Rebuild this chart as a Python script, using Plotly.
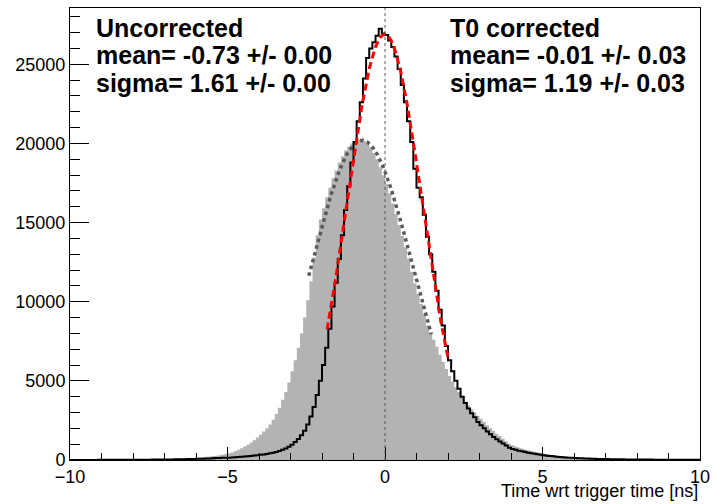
import numpy as np
import plotly.graph_objects as go

# ---------------- data ----------------
bin_lo, bin_hi, n_bins = -10.0, 10.0, 200

uncorrected = [
    8, 9, 7, 10, 9, 11, 10, 12, 11, 13,
    13, 14, 15, 15, 17, 18, 19, 21, 22, 24,
    26, 28, 30, 32, 35, 38, 41, 45, 49, 54,
    59, 64, 70, 76, 83, 91, 99, 108, 118, 129,
    150, 165, 182, 200, 222, 246, 273, 303, 337, 375,
    420, 470, 560, 640, 740, 850, 970, 1100, 1250, 1420,
    1600, 1800, 2000, 2250, 2550, 2900, 3300, 3800, 4300, 4900,
    5600, 6300, 7100, 8000, 9000, 10100, 11300, 12800, 14200, 15200,
    15900, 16600, 17200, 17800, 18300, 18800, 19200, 19550, 19800, 20000,
    20150, 20250, 20200, 20150, 20000, 19750, 19400, 19000, 18500, 18000,
    17450, 16850, 16200, 15550, 14850, 14150, 13450, 12750, 11900, 11150,
    10500, 9850, 9250, 8500, 8050, 7600, 7150, 6650, 6200, 5750,
    5300, 4950, 4600, 4300, 4000, 3700, 3450, 3200, 3000, 2800,
    2600, 2400, 2200, 2000, 1830, 1660, 1510, 1340, 1180, 1020,
    930, 860, 790, 730, 670, 620, 570, 520, 470, 430,
    390, 355, 325, 295, 270, 245, 225, 205, 185, 168,
    153, 140, 128, 117, 107, 98, 90, 83, 77, 71,
    66, 61, 57, 53, 50, 47, 44, 42, 40, 38,
    36, 34, 32, 31, 29, 28, 27, 26, 25, 24,
    23, 22, 21, 20, 20, 19, 18, 18, 17, 17,
]

t0_corrected = [
    4, 5, 4, 6, 5, 6, 7, 6, 7, 8,
    8, 9, 9, 10, 11, 11, 12, 13, 14, 15,
    16, 17, 18, 19, 21, 22, 24, 26, 28, 30,
    32, 35, 38, 41, 44, 48, 52, 57, 62, 67,
    73, 79, 86, 93, 101, 110, 119, 129, 140, 145,
    150, 160, 172, 185, 200, 215, 232, 252, 280, 305,
    330, 355, 385, 420, 460, 510, 570, 640, 730, 840,
    970, 1130, 1320, 1560, 1850, 2250, 2750, 3350, 4100, 5000,
    6000, 7100, 8300, 9700, 11200, 12700, 14200, 15800, 17300, 18800,
    20100, 21400, 22600, 24100, 25400, 26000, 26400, 26800, 27250, 26950,
    26850, 26500, 26100, 25500, 24700, 23700, 22600, 21400, 20100, 18400,
    17200, 16600, 15500, 14100, 13000, 11900, 10700, 9500, 8500, 7200,
    6300, 5600, 5000, 4500, 4000, 3600, 3250, 2950, 2700, 2400,
    2200, 2000, 1800, 1620, 1460, 1310, 1170, 1040, 920, 780,
    700, 640, 590, 545, 505, 465, 430, 395, 360, 330,
    300, 275, 252, 230, 210, 192, 176, 161, 147, 135,
    124, 114, 105, 97, 90, 83, 77, 71, 66, 61,
    57, 53, 49, 46, 43, 40, 38, 36, 34, 32,
    30, 28, 27, 25, 24, 23, 22, 21, 20, 19,
    18, 17, 16, 16, 15, 14, 14, 13, 13, 12,
]

# Gaussian fit results: [amplitude, mean, sigma], and fit ranges
fit_uncorr = [20200, -0.73, 1.61]
fit_uncorr_range = [-2.42, 1.47]
fit_t0 = [26900, -0.01, 1.19]
fit_t0_range = [-1.84, 2.02]

text_left = ["Uncorrected", "mean= -0.73 +/- 0.00", "sigma= 1.61 +/- 0.00"]
text_right = ["T0 corrected", "mean= -0.01 +/- 0.03", "sigma= 1.19 +/- 0.03"]
x_title = "Time wrt trigger time [ns]"

# ---------------- figure ----------------
edges = np.linspace(bin_lo, bin_hi, n_bins + 1)


def step_xy(vals):
    return list(edges), list(vals) + [vals[-1]]


def gauss_curve(p, rng):
    xs = np.linspace(rng[0], rng[1], 300)
    return xs, p[0] * np.exp(-0.5 * ((xs - p[1]) / p[2]) ** 2)


fig = go.Figure()

gx, gy = step_xy(uncorrected)
fig.add_trace(go.Scatter(x=gx, y=gy, mode="lines", line=dict(shape="hv", width=0, color="#b3b3b3"),
                         fill="tozeroy", fillcolor="#b3b3b3", hoverinfo="skip"))

fx, fy = gauss_curve(fit_uncorr, fit_uncorr_range)
fig.add_trace(go.Scatter(x=fx, y=fy, mode="lines",
                         line=dict(color="#5a5a5a", width=3.5, dash="dot")))

bx, by = step_xy(t0_corrected)
fig.add_trace(go.Scatter(x=bx, y=by, mode="lines", line=dict(shape="hv", width=2, color="black")))

rx, ry = gauss_curve(fit_t0, fit_t0_range)
fig.add_trace(go.Scatter(x=rx, y=ry, mode="lines",
                         line=dict(color="#ff0000", width=3, dash="7px,4px")))

fig.add_shape(type="line", x0=0, x1=0, y0=0, y1=1, xref="x", yref="paper",
              line=dict(color="#555555", width=1, dash="dot"), layer="above")

font_ann = dict(family="Liberation Sans, Arial, sans-serif", size=25, color="black")
ys = [0.955, 0.895, 0.835]
for t, y in zip(text_left, ys):
    fig.add_annotation(text="<b>%s</b>" % t, x=0.038, y=y, xref="paper", yref="paper",
                       xanchor="left", yanchor="middle", showarrow=False, font=font_ann)
for t, y in zip(text_right, ys):
    fig.add_annotation(text="<b>%s</b>" % t, x=0.600, y=y, xref="paper", yref="paper",
                       xanchor="left", yanchor="middle", showarrow=False, font=font_ann)

fig.add_annotation(text=x_title, x=1.0, y=-0.042, xref="paper", yref="paper",
                   xanchor="right", yanchor="top", showarrow=False,
                   font=dict(family="Liberation Sans, Arial, sans-serif", size=18, color="black"))

tickfont = dict(family="Liberation Sans, Arial, sans-serif", size=18, color="black")
fig.update_layout(
    width=717, height=504,
    margin=dict(l=70, r=14, t=7, b=44),
    paper_bgcolor="white", plot_bgcolor="white",
    showlegend=False,
    xaxis=dict(range=[-10, 10], dtick=5, tick0=0, ticks="inside", ticklen=13, tickwidth=1,
               tickcolor="black", showline=True, linecolor="black", linewidth=1, mirror=True,
               showgrid=False, zeroline=False, tickfont=tickfont,
               minor=dict(dtick=1, ticks="inside", ticklen=7, tickcolor="black", tickwidth=1, showgrid=False)),
    yaxis=dict(range=[0, 28560], dtick=5000, tickformat="d", ticks="inside", ticklen=19, tickwidth=1,
               tickcolor="black", showline=True, linecolor="black", linewidth=1, mirror=True,
               showgrid=False, zeroline=False, tickfont=tickfont,
               minor=dict(dtick=1000, ticks="inside", ticklen=10, tickcolor="black", tickwidth=1, showgrid=False)),
)

fig.write_html("out.html")
